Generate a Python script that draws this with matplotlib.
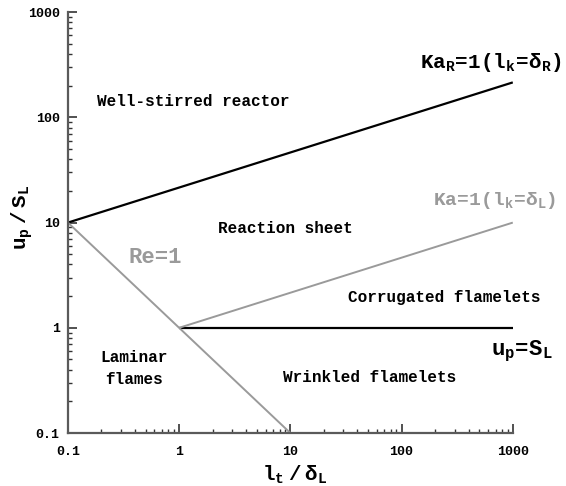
import matplotlib
matplotlib.use("Agg")
import matplotlib.pyplot as plt
from matplotlib.ticker import FixedLocator, FixedFormatter, LogLocator, NullFormatter

# regime boundaries (l_t/delta_L, u'/S_L)
ka_r_x = [0.1, 1000]
ka_r_y = [10, 215]
ka_x = [1, 1000]
ka_y = [1, 10]
re_x = [0.1, 10]
re_y = [10, 0.1]
us_x = [1, 1000]
us_y = [1, 1]

tick_vals = [0.1, 1, 10, 100, 1000]
tick_labels = ["0.1", "1", "10", "100", "1000"]

plt.rcParams["font.family"] = ["Liberation Mono", "DejaVu Sans"]
plt.rcParams["font.weight"] = "bold"
plt.rcParams["mathtext.fontset"] = "custom"
plt.rcParams["mathtext.rm"] = "Liberation Mono:bold"
plt.rcParams["mathtext.it"] = "Liberation Mono:bold"
plt.rcParams["mathtext.bf"] = "Liberation Mono:bold"

BLACK = "#000000"
GRAY = "#9a9a9a"

fig = plt.figure(figsize=(5.66, 4.86), dpi=100)
ax = fig.add_axes([0.120, 0.109, 0.786, 0.866])

ax.plot(ka_r_x, ka_r_y, color=BLACK, lw=1.6, solid_capstyle="butt")
ax.plot(us_x, us_y, color=BLACK, lw=1.6, solid_capstyle="butt")
ax.plot(ka_x, ka_y, color=GRAY, lw=1.4, solid_capstyle="butt")
ax.plot(re_x, re_y, color=GRAY, lw=1.4, solid_capstyle="butt")

ax.set_xscale("log")
ax.set_yscale("log")
ax.set_xlim(0.1, 1000)
ax.set_ylim(0.1, 1000)

for s in ["top", "right"]:
    ax.spines[s].set_visible(False)
for s in ["left", "bottom"]:
    ax.spines[s].set_color("#5a5a5a")
    ax.spines[s].set_linewidth(1.6)

for axis in [ax.xaxis, ax.yaxis]:
    axis.set_major_locator(FixedLocator(tick_vals))
    axis.set_major_formatter(FixedFormatter(tick_labels))
    axis.set_minor_locator(LogLocator(base=10, subs=range(2, 10)))
    axis.set_minor_formatter(NullFormatter())

ax.tick_params(which="major", direction="in", length=6.5, width=1.2, color="#333333",
               labelsize=9.5)
ax.tick_params(which="minor", direction="in", length=3.2, width=1.0, color="#333333")
ax.tick_params(axis="x", which="major", pad=9)
ax.tick_params(axis="y", which="major", pad=6)

ax.set_xlabel(r"$\mathrm{l_t\ /\ \delta_L}$", fontsize=15)
ax.set_ylabel(r"$\mathrm{u_p\ /\ S_L}$", fontsize=15)
ax.xaxis.set_label_coords(0.51, -0.072)
ax.yaxis.set_label_coords(-0.074, 0.513)

# region labels
ax.text(1.33, 142, "Well-stirred reactor", fontsize=11.5, ha="center", va="center")
ax.text(9.1, 8.85, "Reaction sheet", fontsize=11.5, ha="center", va="center")
ax.text(240, 1.96, "Corrugated flamelets", fontsize=11.5, ha="center", va="center")
ax.text(52, 0.34, "Wrinkled flamelets", fontsize=11.5, ha="center", va="center")
ax.text(0.39, 0.41, "Laminar\nflames", fontsize=11.5, ha="center", va="center",
        linespacing=1.6)
ax.text(0.605, 4.69, "Re=1", fontsize=16, color=GRAY, ha="center", va="center")
ax.text(1200, 0.59, r"$\mathrm{u_p\!=\!S_L}$", fontsize=16, ha="center", va="center",
        clip_on=False)
ax.text(146, 333, r"$\mathrm{Ka_R\!=\!1(l_k\!=\!\delta_R)}$", fontsize=15,
        ha="left", va="center", clip_on=False)
ax.text(190, 16.3, r"$\mathrm{Ka\!=\!1(l_k\!=\!\delta_L)}$", fontsize=14, color=GRAY,
        ha="left", va="center", clip_on=False)

fig.savefig("out.png", dpi=100)
